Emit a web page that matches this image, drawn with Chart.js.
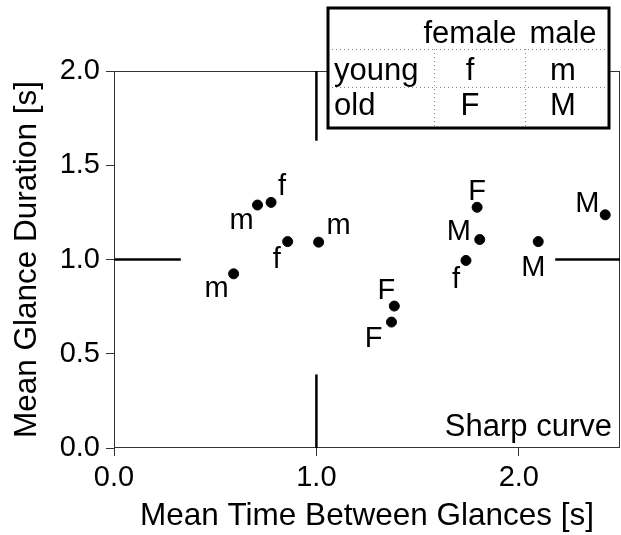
<!DOCTYPE html>
<html>
<head>
<meta charset="utf-8">
<title>Mean glance duration vs time between glances</title>
<script src="https://cdn.jsdelivr.net/npm/chart.js@4"></script>
<style>
  body { margin: 0; background: #fff; }
  #wrap { width: 621px; height: 535px; }
</style>
</head>
<body>
<div id="wrap"><canvas id="glanceChart" width="621" height="535"></canvas></div>
<script>
// groups: young female, young male, old female, old male
const groupLetters = ["f", "m", "F", "M"];
const youngFemaleX = [0.776, 0.858, 1.739];
const youngFemaleY = [1.303, 1.095, 0.995];
const youngMaleX = [0.709, 1.011, 0.591];
const youngMaleY = [1.289, 1.092, 0.924];
const oldFemaleX = [1.794, 1.385, 1.371];
const oldFemaleY = [1.277, 0.753, 0.668];
const oldMaleX = [1.807, 2.096, 2.427];
const oldMaleY = [1.106, 1.095, 1.237];

// reference cross at (1, 1), drawn only near the edges
const crossX = 1.0;
const crossY = 1.0;
const hSegments = [[0, 0.33], [2.18, 2.5]];
const vSegments = [[0, 0.39], [1.63, 2.0]];

const xTicks = [0, 1, 2];
const yTicks = [0, 0.5, 1, 1.5, 2];
const tableCols = ["female", "male"];
const tableRows = ["young", "old"];
const panelTitle = "Sharp curve";

const FONT = "'Liberation Sans', Arial, Helvetica, sans-serif";

// where each letter sits relative to its dot (px, to baseline)
const labelNudge = [
    [[11, -7], [-11, 26], [-10, 28]],
    [[-16, 24], [20, -8], [-17, 23]],
    [[0, -7], [-8, -7], [-18, 25]],
    [[-21, 0], [-5, 34], [-18, -3]]
];

function toPoints(xs, ys) {
    return xs.map((x, i) => ({x: x, y: ys[i]}));
}

const groupData = [
    toPoints(youngFemaleX, youngFemaleY),
    toPoints(youngMaleX, youngMaleY),
    toPoints(oldFemaleX, oldFemaleY),
    toPoints(oldMaleX, oldMaleY)
];

let datasets = groupData.map((pts, i) => ({
    label: groupLetters[i],
    data: pts,
    backgroundColor: "#000",
    borderColor: "#000",
    pointRadius: 5,
    pointHoverRadius: 5,
    showLine: false
}));

function segmentSet(pts) {
    return {
        data: pts,
        showLine: true,
        borderColor: "#000",
        borderWidth: 2.5,
        pointRadius: 0,
        pointHoverRadius: 0,
        fill: false
    };
}
hSegments.forEach(s => datasets.push(segmentSet([{x: s[0], y: crossY}, {x: s[1], y: crossY}])));
vSegments.forEach(s => datasets.push(segmentSet([{x: crossX, y: s[0]}, {x: crossX, y: s[1]}])));

const decorations = {
    id: "decorations",
    beforeDatasetsDraw(chart) {
        const {ctx, chartArea: a} = chart;
        ctx.save();
        ctx.strokeStyle = "#333";
        ctx.lineWidth = 1;
        ctx.strokeRect(a.left + 0.5, a.top + 0.5, a.right - a.left - 1, a.bottom - a.top - 1);
        ctx.restore();
    },
    afterDatasetsDraw(chart) {
        const {ctx, chartArea: a} = chart;
        ctx.save();
        ctx.fillStyle = "#000";
        ctx.textAlign = "center";
        ctx.textBaseline = "alphabetic";
        ctx.font = "29px " + FONT;
        groupLetters.forEach((letter, gi) => {
            chart.getDatasetMeta(gi).data.forEach((pt, i) => {
                const n = labelNudge[gi][i];
                ctx.fillText(letter, pt.x + n[0], pt.y + n[1]);
            });
        });

        // panel caption
        ctx.font = "31px " + FONT;
        ctx.textAlign = "right";
        ctx.fillText(panelTitle, a.right - 8, a.bottom - 12);

        // key table
        const box = {left: 328, top: 8, right: 609, bottom: 128};
        const lines = [49, 87];
        const cols = [434, 525];
        ctx.fillStyle = "#fff";
        ctx.fillRect(box.left, box.top, box.right - box.left, box.bottom - box.top);
        ctx.strokeStyle = "#888";
        ctx.lineWidth = 1;
        ctx.setLineDash([1, 3]);
        lines.forEach(y => {
            ctx.beginPath();
            ctx.moveTo(box.left, y + 0.5);
            ctx.lineTo(box.right, y + 0.5);
            ctx.stroke();
        });
        cols.forEach(x => {
            ctx.beginPath();
            ctx.moveTo(x + 0.5, lines[0]);
            ctx.lineTo(x + 0.5, box.bottom);
            ctx.stroke();
        });
        ctx.setLineDash([]);
        ctx.strokeStyle = "#000";
        ctx.lineWidth = 3;
        ctx.strokeRect(box.left, box.top, box.right - box.left, box.bottom - box.top);

        ctx.fillStyle = "#000";
        ctx.font = "31px " + FONT;
        const colCenters = [470, 563];
        const rowBase = [80, 115];
        ctx.textAlign = "center";
        tableCols.forEach((c, i) => ctx.fillText(c, colCenters[i], 43));
        tableRows.forEach((r, ri) => {
            ctx.textAlign = "left";
            ctx.fillText(r, 334, rowBase[ri]);
            ctx.textAlign = "center";
            tableCols.forEach((c, ci) => {
                ctx.fillText(groupLetters[ri * 2 + ci], colCenters[ci], rowBase[ri]);
            });
        });
        ctx.restore();
    }
};

let ctx = document.getElementById("glanceChart").getContext("2d");
let chart = new Chart(ctx, {
    type: "scatter",
    data: {datasets: datasets},
    options: {
        responsive: false,
        animation: false,
        layout: {
            autoPadding: false,
            padding: {top: 71, right: 1, left: 0, bottom: 0}
        },
        plugins: {
            legend: {display: false},
            tooltip: {enabled: false}
        },
        scales: {
            x: {
                type: "linear",
                min: 0,
                max: 2.5,
                afterFit: s => {
                    s.height = 87;
                    s.paddingLeft = 0;
                    s.paddingRight = 0;
                },
                afterBuildTicks: s => { s.ticks = xTicks.map(v => ({value: v})); },
                border: {display: false},
                grid: {drawOnChartArea: false, drawTicks: true, tickLength: 8, color: "#333"},
                ticks: {
                    padding: 5,
                    color: "#000",
                    font: {family: FONT, size: 29},
                    callback: v => Number(v).toFixed(1)
                },
                title: {
                    display: true,
                    text: "Mean Time Between Glances [s]",
                    color: "#000",
                    font: {family: FONT, size: 31.5},
                    padding: {top: 0, bottom: 0}
                }
            },
            y: {
                type: "linear",
                min: 0,
                max: 2,
                afterFit: s => {
                    s.width = 114;
                    s.paddingTop = 0;
                    s.paddingBottom = 0;
                },
                afterBuildTicks: s => { s.ticks = yTicks.map(v => ({value: v})); },
                border: {display: false},
                grid: {drawOnChartArea: false, drawTicks: true, tickLength: 8, color: "#333"},
                ticks: {
                    padding: 6,
                    color: "#000",
                    font: {family: FONT, size: 29},
                    callback: v => Number(v).toFixed(1)
                },
                title: {
                    display: true,
                    text: "Mean Glance Duration [s]",
                    color: "#000",
                    font: {family: FONT, size: 31.5},
                    padding: {top: 8, bottom: 0}
                }
            }
        }
    },
    plugins: [decorations]
});
</script>
</body>
</html>
